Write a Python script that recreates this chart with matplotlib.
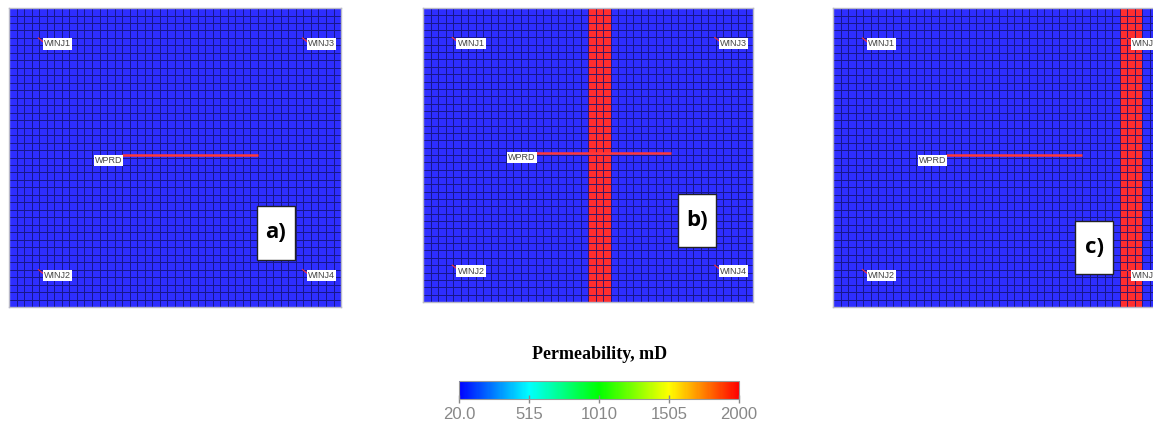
""" Permeability maps of a 2D reservoir grid, three fracture cases,
    with a shared colorbar underneath
"""

## LIBRARIES
import numpy as np
import matplotlib
matplotlib.use('Agg')
import matplotlib.pyplot as plt
from matplotlib.colors import LinearSegmentedColormap, Normalize
from matplotlib.patches import Rectangle

# grid size (cells)
nx = 44
ny = 40

# permeability values, mD
k_matrix = 20.0
k_fracture = 2000.0

# columns of the high-permeability band in each case
panel_labels = ['a)', 'b)', 'c)']
fracture_cols = [[], [22, 23, 24], [38, 39, 40]]

# injectors: name, cell x, cell y (y counted from the top)
inj_names = ['WINJ1', 'WINJ3', 'WINJ2', 'WINJ4']
inj_x = [4.5, 39.5, 4.5, 39.5]
inj_y = [4.5, 4.5, 35.5, 35.5]

# horizontal producer
prd_name = 'WPRD'
prd_x = [15.0, 33.0]
prd_y = [19.7, 19.7]

# colorbar ticks
cbar_ticks = [20, 515, 1010, 1505, 2000]
cbar_ticklabels = ['20.0', '515', '1010', '1505', '2000']

cmap = LinearSegmentedColormap.from_list(
    'perm', ['#0000ff', '#00ffff', '#00ff00', '#ffff00', '#ff0000'])
norm = Normalize(vmin=k_matrix, vmax=k_fracture)

fig = plt.figure(figsize=(11.53, 4.24), dpi=100)
fig.patch.set_facecolor('white')

# axes rectangles in figure fractions (left, bottom, width, height)
panel_pos = [
    [0.0078, 0.276, 0.288, 0.705],
    [0.3669, 0.288, 0.2862, 0.693],
    [0.7225, 0.276, 0.288, 0.705],
]
# where the case label box sits inside each panel (axes fraction centre)
box_centre = [(0.804, 0.248), (0.829, 0.276), (0.786, 0.199)]
box_w = 0.115
box_h = 0.18

for i in range(3):
    ax = fig.add_axes(panel_pos[i])
    perm = np.full((ny, nx), k_matrix)
    for c in fracture_cols[i]:
        perm[:, c] = k_fracture

    ax.pcolormesh(np.arange(nx + 1), np.arange(ny + 1), perm, cmap=cmap,
                  norm=norm, edgecolors='#1c1c78', linewidth=0.5, alpha=0.82)
    ax.set_xlim(0, nx)
    ax.set_ylim(ny, 0)
    ax.set_xticks([])
    ax.set_yticks([])
    for s in ax.spines.values():
        s.set_color('#b8b8c8')
        s.set_linewidth(1.0)

    # injector wells: small red stub and a name tag
    for name, wx, wy in zip(inj_names, inj_x, inj_y):
        ax.plot([wx - 0.6, wx], [wy - 0.5, wy], color='#ff3030', lw=0.8)
        ax.text(wx + 0.1, wy + 0.3, name, fontsize=6.5, color='#444444',
                ha='left', va='center', family='Liberation Sans',
                bbox=dict(boxstyle='square,pad=0.12', fc='white', ec='none'))

    # producer
    ax.plot(prd_x, prd_y, color='#ff3838', lw=1.8, solid_capstyle='butt')
    ax.text(prd_x[0], prd_y[0] + 0.7, prd_name, fontsize=6.5, color='#444444',
            ha='right', va='center', family='Liberation Sans',
            bbox=dict(boxstyle='square,pad=0.12', fc='white', ec='none'))

    # case label box
    cx, cy = box_centre[i]
    ax.add_patch(Rectangle((cx - box_w / 2, cy - box_h / 2), box_w, box_h,
                           transform=ax.transAxes, fc='white', ec='#222222',
                           lw=1.0, zorder=5))
    ax.text(cx, cy, panel_labels[i], transform=ax.transAxes, fontsize=16,
            fontweight='bold', ha='center', va='center', zorder=6,
            family='Open Sans')

# colorbar
cax = fig.add_axes([0.398, 0.059, 0.243, 0.042])
cb = fig.colorbar(plt.cm.ScalarMappable(norm=norm, cmap=cmap), cax=cax,
                  orientation='horizontal', ticks=cbar_ticks)
cb.ax.set_xticklabels(cbar_ticklabels, family='Liberation Sans')
cb.ax.tick_params(labelsize=12, colors='#888888', direction='inout',
                  length=6, width=1, pad=3)
cb.outline.set_edgecolor('#999999')
fig.text(0.52, 0.163, 'Permeability, mD', ha='center', va='center',
         fontsize=13, fontweight='bold', family='Liberation Serif')

fig.savefig('out.png', dpi=100, facecolor='white')
